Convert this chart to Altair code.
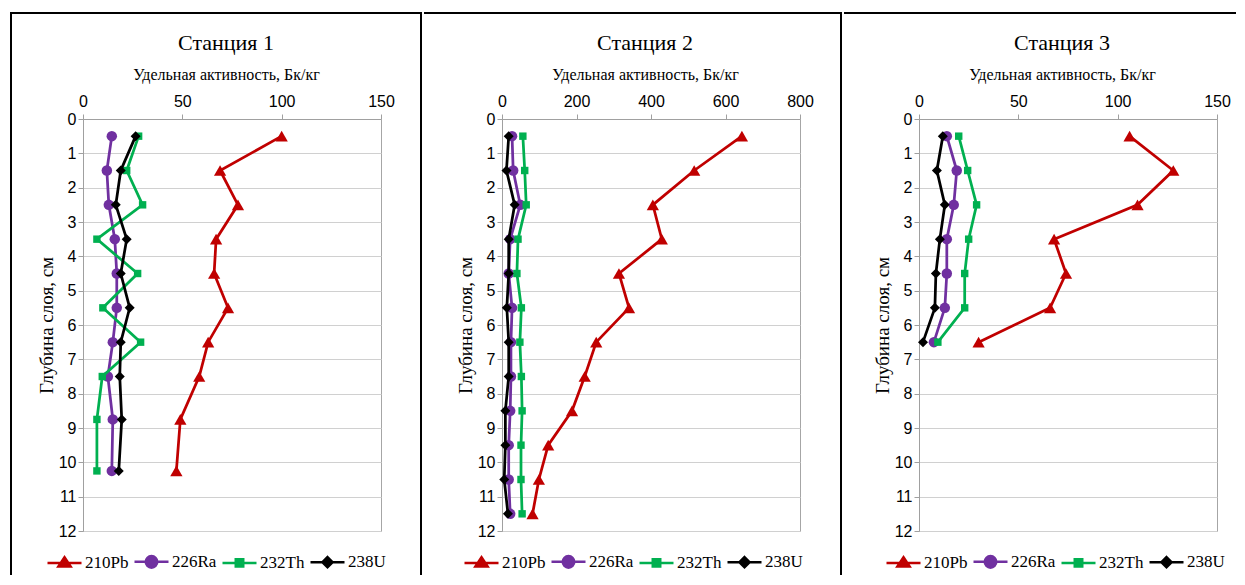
import altair as alt
import pandas as pd

SERIES = ["210Pb", "226Ra", "232Th", "238U"]
COLORS = ["#C00000", "#7030A0", "#00B050", "#000000"]
SHAPES = ["triangle-up", "circle", "square", "diamond"]
SIZES = [150, 110, 55, 100]
LEG_SHAPES = [
    "M-1,0H1M0,-0.34L0.36,0.2L-0.36,0.2Z",
    "M-1,0H1M0.34,0A0.34,0.34 0 1,1 -0.34,0A0.34,0.34 0 1,1 0.34,0Z",
    "M-1,0H1M-0.22,-0.22H0.22V0.22H-0.22Z",
    "M-1,0H1M0,-0.3L0.3,0L0,0.3L-0.3,0Z",
]

TITLES = ["Станция 1", "Станция 2", "Станция 3"]
X_TITLE = "Удельная активность, Бк/кг"
Y_TITLE = "Глубина слоя, см"

# Station 1
depth1 = [0.5, 1.5, 2.5, 3.5, 4.5, 5.5, 6.5, 7.5, 8.75, 10.25]
pb1 = [100, 69, 78, 67, 66, 73, 63, 58.5, 49, 47]
ra1 = [14.5, 12, 13, 16, 17, 17, 15, 12.5, 15, 14.5]
th1 = [28, 22, 30, 7, 27.5, 10, 29, 9.7, 7, 7]
u1 = [26.5, 19, 16.5, 22, 19, 23.5, 19, 18.5, 19.5, 18]

# Station 2
depth2 = [0.5, 1.5, 2.5, 3.5, 4.5, 5.5, 6.5, 7.5, 8.5, 9.5, 10.5, 11.5]
pb2 = [644, 516, 405, 429, 314, 341, 253, 222, 188, 124, 99, 82]
ra2 = [27, 30, 49, 22, 18, 27, 24, 24, 22, 18, 18, 22]
th2 = [56, 61, 65, 43, 40, 52, 48, 52, 54, 51, 51, 54]
u2 = [18, 12, 34, 18, 18, 13, 18, 18, 9, 9, 6, 16]

# Station 3
depth3 = [0.5, 1.5, 2.5, 3.5, 4.5, 5.5, 6.5]
pb3 = [106, 128, 110, 68, 74, 66, 30]
ra3 = [14, 19, 17.5, 14, 14, 13, 7.5]
th3 = [20, 24.5, 29, 25, 23, 23, 9.5]
u3 = [12, 9, 13, 10.5, 8.5, 8, 2]

X_MAX = [150, 800, 150]
X_STEP = [50, 200, 50]
Y_TICKS = list(range(0, 13))


def long_df(depths, vals):
    rows = []
    for s, v in zip(SERIES, vals):
        for d, x in zip(depths, v):
            rows.append({"series": s, "depth": d, "value": x})
    return pd.DataFrame(rows)


def panel(title, df, xmax, xstep, top_l, top_r, left_rule, right_rule, legend_x):
    x = alt.X(
        "value:Q",
        scale=alt.Scale(domain=[0, xmax], nice=False),
        axis=alt.Axis(
            orient="top", values=list(range(0, xmax + 1, xstep)), title=X_TITLE,
            grid=False, labelPadding=5, titlePadding=11, labelFlush=False,
            labelOverlap=False, titleFontSize=16, titleX=143,
        ),
    )
    y = alt.Y(
        "depth:Q",
        scale=alt.Scale(domain=[0, 12], reverse=True, nice=False),
        axis=alt.Axis(
            values=Y_TICKS, title=Y_TITLE, grid=True, labelPadding=2,
            titlePadding=2, labelFlush=False, labelOverlap=False, titleFontSize=19,
        ),
    )
    base = alt.Chart(df)
    layers = []
    for s, c, sh, sz in zip(SERIES, COLORS, SHAPES, SIZES):
        sub = base.transform_filter(alt.datum.series == s)
        layers.append(
            sub.mark_line(color=c, strokeWidth=2.75).encode(x=x, y=y, order="depth:Q")
        )
        layers.append(
            sub.mark_point(filled=True, shape=sh, size=sz, color=c, opacity=1).encode(x=x, y=y)
        )
    leg = alt.Legend(
        orient="none", legendX=legend_x, legendY=424, direction="horizontal",
        columns=4, title=None, symbolSize=1156, symbolStrokeWidth=2.5,
        labelFont="Liberation Serif", labelFontSize=17, labelColor="black",
        labelOffset=2, columnPadding=0, padding=0,
    )
    legend_layer = base.transform_filter("false").mark_point(filled=True, opacity=1).encode(
        x=x, y=y,
        fill=alt.Fill("series:N", scale=alt.Scale(domain=SERIES, range=COLORS), legend=leg),
        stroke=alt.Stroke("series:N", scale=alt.Scale(domain=SERIES, range=COLORS), legend=leg),
        shape=alt.Shape("series:N", scale=alt.Scale(domain=SERIES, range=LEG_SHAPES), legend=leg),
    )
    frame = alt.Chart(alt.Data(values=[{}]))
    rule_style = dict(color="black", strokeWidth=2, strokeCap="square")
    rules = [
        frame.mark_rule(**rule_style).encode(
            x=alt.value(top_l), x2=alt.value(top_r), y=alt.value(-106)
        )
    ]
    if left_rule is not None:
        rules.append(frame.mark_rule(**rule_style).encode(
            x=alt.value(left_rule), y=alt.value(-106), y2=alt.value(455)))
    if right_rule is not None:
        rules.append(frame.mark_rule(**rule_style).encode(
            x=alt.value(right_rule), y=alt.value(-106), y2=alt.value(455)))
    return alt.layer(*layers, legend_layer, *rules).properties(
        width=298, height=412,
        title=alt.TitleParams(
            text=title, font="Liberation Serif", fontSize=22, fontWeight="normal",
            color="black", offset=8, anchor="middle", dx=-6, dy=51,
        ),
    )


p1 = panel(TITLES[0], long_df(depth1, [pb1, ra1, th1, u1]), X_MAX[0], X_STEP[0],
           -72, 338, -72, 338, -37)
p2 = panel(TITLES[1], long_df(depth2, [pb2, ra2, th2, u2]), X_MAX[1], X_STEP[1],
           -77, 339, None, 339, -39)
p3 = panel(TITLES[2], long_df(depth3, [pb3, ra3, th3, u3]), X_MAX[2], X_STEP[2],
           -74, 316, None, None, -34)

chart = (
    alt.hconcat(p1, p2, p3, spacing=0)
    .resolve_scale(fill="independent", stroke="independent", shape="independent")
    .properties(padding={"left": 1, "top": 3, "right": 0, "bottom": 0})
    .configure_view(stroke="#a6a6a6", strokeWidth=1)
    .configure_axis(
        labelFont="Liberation Sans", labelFontSize=16, labelColor="black",
        titleFont="Liberation Serif", titleFontWeight="normal",
        titleColor="black", domainColor="#a0a0a0", tickColor="#a0a0a0", tickSize=5,
        gridColor="#d0d0d0", gridWidth=1,
    )
    .configure_legend(labelFont="Liberation Serif", labelFontSize=17, labelColor="black")
)

chart.save("out.html", embed_options={"renderer": "svg", "actions": False})
